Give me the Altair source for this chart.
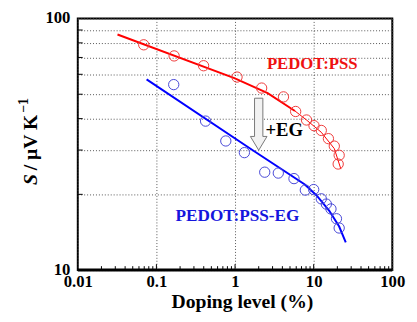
import altair as alt
import pandas as pd

# ---- data ----
red_x = [0.069, 0.168, 0.398, 1.06, 2.18, 4.13, 5.90, 8.11, 10.1, 12.5, 15.4, 18.3, 21.1, 20.5]
red_y = [78.6, 71.0, 64.9, 58.5, 52.9, 48.8, 42.7, 39.5, 37.5, 35.9, 33.3, 31.1, 28.6, 26.4]
blue_x = [0.166, 0.422, 0.763, 1.315, 2.385, 3.55, 5.62, 7.83, 10.0, 12.5, 14.5, 16.6, 19.5, 21.1]
blue_y = [54.6, 39.1, 32.6, 29.3, 24.5, 24.3, 23.1, 20.8, 20.9, 19.2, 18.3, 17.5, 16.0, 14.7]

# fitted curves
red_fit_x = [0.032, 0.98, 2.6, 5.78]
red_fit_y = [86.4, 57.9, 50.5, 42.9]
red_tail_x = [5.78, 8.11, 12.5, 18.3, 22.2]
red_tail_y = [42.9, 39.5, 35.3, 30.4, 25.2]
blue_fit_x = [0.075, 1.66, 7.72, 10.9, 15.8, 21.1, 25.6]
blue_fit_y = [57.3, 30.0, 21.9, 19.8, 17.2, 14.9, 12.9]

# axis ticks
x_tick_values = [0.01, 0.1, 1, 10, 100]
x_tick_labels = ["0.01", "0.1", "1", "10", "100"]
x_minor = [m * d for d in [0.01, 0.1, 1, 10] for m in range(2, 10)]
x_major_inner = [0.1, 1, 10]
y_grid = [10, 20, 30, 40, 50, 60, 70, 80, 90, 100]
y_labels = {10: "10", 100: "100"}
y_inner = [20, 30, 40, 50, 60, 70, 80, 90]

# arrow annotation (data coords)
arrow_x = [2.0]
arrow_y = [38.0]

W, H = 320, 256
FONT = "Liberation Serif"

xs = alt.Scale(type="log", domain=[0.01, 100])
ys = alt.Scale(type="log", domain=[10, 100])

x_label_expr = " : ".join(
    [f"datum.value == {v} ? '{l}'" for v, l in zip(x_tick_values, x_tick_labels)] + ["''"]
)
y_label_expr = " : ".join(
    [f"datum.value == {v} ? '{l}'" for v, l in y_labels.items()] + ["''"]
)

xaxis = alt.Axis(values=x_tick_values, labelExpr=x_label_expr, title=None, grid=True,
                 gridDash=[1, 2], gridColor="#555555", gridWidth=1,
                 ticks=False, domain=False, labelFont=FONT, labelFontWeight="bold",
                 labelFontSize=17, labelColor="black", labelPadding=4, labelFlush=False)
yaxis = alt.Axis(values=y_grid, labelExpr=y_label_expr, title=None, grid=True,
                 gridDash=[1, 2], gridColor="#555555", gridWidth=1,
                 ticks=False, domain=False, labelFont=FONT, labelFontWeight="bold",
                 labelFontSize=17, labelColor="black", labelPadding=8, labelFlush=False,
                 labelOverlap=False, labelOffset=-1)

red_df = pd.DataFrame({"x": red_x, "y": red_y})
blue_df = pd.DataFrame({"x": blue_x, "y": blue_y})

base_axes = alt.Chart(pd.DataFrame({"x": [0.01, 100], "y": [10, 100]})).mark_point(opacity=0).encode(
    x=alt.X("x:Q", scale=xs, axis=xaxis),
    y=alt.Y("y:Q", scale=ys, axis=yaxis),
)


def line(xv, yv, color, width):
    df = pd.DataFrame({"x": xv, "y": yv, "o": list(range(len(xv)))})
    return alt.Chart(df).mark_line(color=color, strokeWidth=width).encode(
        x=alt.X("x:Q", scale=xs), y=alt.Y("y:Q", scale=ys), order="o:Q")


def circles(df, color):
    return alt.Chart(df).mark_point(shape="circle", filled=False, size=110, stroke=color,
                                    strokeWidth=1, opacity=1).encode(
        x=alt.X("x:Q", scale=xs), y=alt.Y("y:Q", scale=ys))


one = pd.DataFrame({"a": [0]})


def label(text, x, y, color="black", size=16, angle=0, style="normal", align="center",
          baseline="middle"):
    return alt.Chart(one).mark_text(text=text, font=FONT, fontSize=size, fontWeight="bold",
                                    fontStyle=style, color=color, angle=angle, align=align,
                                    baseline=baseline).encode(x=alt.value(x), y=alt.value(y))


xminor = alt.Chart(pd.DataFrame({"x": x_minor})).mark_rule(color="black", strokeWidth=1).encode(
    x=alt.X("x:Q", scale=xs), y=alt.value(H), y2=alt.value(H - 4))
xmajor = alt.Chart(pd.DataFrame({"x": x_major_inner})).mark_rule(color="black", strokeWidth=1).encode(
    x=alt.X("x:Q", scale=xs), y=alt.value(H), y2=alt.value(H - 6))
yinner = alt.Chart(pd.DataFrame({"y": y_inner})).mark_rule(color="black", strokeWidth=1).encode(
    y=alt.Y("y:Q", scale=ys), x=alt.value(0), x2=alt.value(5))
bottom = alt.Chart(one).mark_rule(color="black", strokeWidth=3).encode(
    x=alt.value(0), x2=alt.value(W), y=alt.value(H))

arrow_path = "M-0.16,-1 L0.16,-1 L0.16,0.47 L0.32,0.47 L0,1 L-0.32,0.47 L-0.16,0.47 Z"
arrow = alt.Chart(pd.DataFrame({"x": arrow_x, "y": arrow_y})).mark_point(
    shape=arrow_path, size=2800, filled=True, fill="#f2f2f2", stroke="#777777",
    strokeWidth=1, opacity=1).encode(x=alt.X("x:Q", scale=xs), y=alt.Y("y:Q", scale=ys))

chart = alt.layer(
    base_axes,
    xminor, xmajor, yinner,
    line(red_fit_x, red_fit_y, "#ff0000", 2),
    line(red_tail_x, red_tail_y, "#ff0000", 1),
    line(blue_fit_x, blue_fit_y, "#0000ff", 2),
    circles(red_df, "#ee3b3b"),
    circles(blue_df, "#4747d6"),
    arrow,
    label("PEDOT:PSS", 238.5, 46.5, "#ee1111", 17),
    label("PEDOT:PSS-EG", 162.5, 200.7, "#1515dd", 17.5),
    label("+EG", 210, 113.5, "black", 19),
    label("S", -48, 169.5, "black", 20, 270, "italic", "left"),
    label("/ μV K", -48, 154.5, "black", 20, 270, "normal", "left"),
    label("\u22121", -54.5, 96, "black", 14, 270, "normal", "left"),
    label("Doping level (%)", 167.5, 295, "black", 20, baseline="alphabetic"),
    bottom,
).properties(
    width=W, height=H,
    autosize=alt.AutoSizeParams(type="none"),
    padding={"left": 71, "top": 8, "right": 17, "bottom": 42},
).configure_view(stroke="black", strokeWidth=2)

chart.save("out.html", embed_options={"renderer": "svg", "actions": False})
